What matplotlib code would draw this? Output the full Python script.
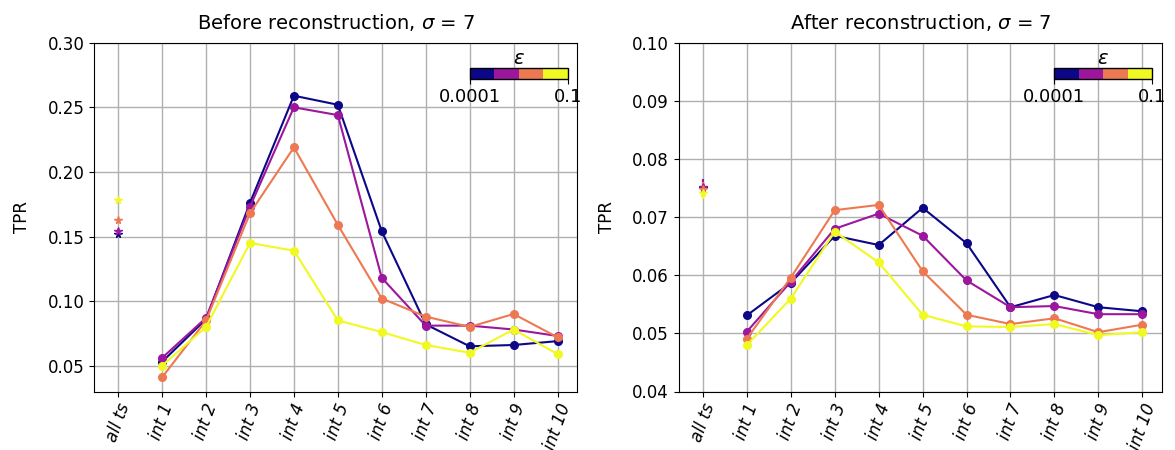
import numpy as np
import matplotlib
matplotlib.use('Agg')
import matplotlib.pyplot as plt
from matplotlib.colors import ListedColormap, BoundaryNorm

labels = ['all ts'] + ['int %d' % i for i in range(1, 11)]
epsilons = [0.0001, 0.001, 0.01, 0.1]

# before reconstruction: first value is "all ts"
before = {
    0.0001: [0.152, 0.053, 0.086, 0.176, 0.259, 0.252, 0.154, 0.082, 0.065, 0.066, 0.069],
    0.001:  [0.154, 0.056, 0.087, 0.173, 0.250, 0.244, 0.118, 0.081, 0.081, 0.078, 0.073],
    0.01:   [0.163, 0.041, 0.085, 0.168, 0.219, 0.159, 0.102, 0.088, 0.080, 0.090, 0.072],
    0.1:    [0.178, 0.050, 0.080, 0.145, 0.139, 0.085, 0.076, 0.066, 0.060, 0.078, 0.059],
}
after = {
    0.0001: [0.0750, 0.0531, 0.0587, 0.0668, 0.0652, 0.0716, 0.0655, 0.0545, 0.0566, 0.0545, 0.0538],
    0.001:  [0.0752, 0.0503, 0.0589, 0.0680, 0.0706, 0.0668, 0.0591, 0.0545, 0.0547, 0.0533, 0.0533],
    0.01:   [0.0748, 0.0491, 0.0596, 0.0712, 0.0721, 0.0607, 0.0532, 0.0516, 0.0526, 0.0502, 0.0515],
    0.1:    [0.0742, 0.0480, 0.0560, 0.0675, 0.0622, 0.0532, 0.0512, 0.0511, 0.0516, 0.0497, 0.0502],
}
after_err = {
    0.0001: [0.0010, 0.0004, 0.0004, 0.0005, 0.0004, 0.0006, 0.0008, 0.0004, 0.0003, 0.0003, 0.0004],
    0.001:  [0.0013, 0.0005, 0.0004, 0.0004, 0.0004, 0.0006, 0.0007, 0.0004, 0.0003, 0.0003, 0.0003],
    0.01:   [0.0012, 0.0004, 0.0003, 0.0005, 0.0006, 0.0006, 0.0004, 0.0003, 0.0003, 0.0003, 0.0003],
    0.1:    [0.0010, 0.0004, 0.0003, 0.0004, 0.0007, 0.0004, 0.0003, 0.0003, 0.0003, 0.0003, 0.0003],
}

colors = ['#0c0786', '#9c179e', '#ed7953', '#f0f921']

fig, axes = plt.subplots(1, 2, figsize=(11.75, 4.5), dpi=100)
plt.subplots_adjust(left=0.08, right=0.989, top=0.905, bottom=0.13, wspace=0.21)

x = np.arange(len(labels))
for ax, data, errs, title, ylim in [
        (axes[0], before, None, r'Before reconstruction, $\sigma$ = 7', (0.03, 0.30)),
        (axes[1], after, after_err, r'After reconstruction, $\sigma$ = 7', (0.04, 0.10))]:
    for c, eps in zip(colors, epsilons):
        y = data[eps]
        e = errs[eps] if errs else [0] * len(y)
        ax.errorbar(x[1:], y[1:], yerr=e[1:], color=c, marker='o', ms=5.5, lw=1.5)
        ax.errorbar(x[:1], y[:1], yerr=e[:1], color=c, marker='*', ms=5.5, lw=1.5)
    ax.set_title(title, fontsize=14, pad=10)
    ax.set_ylabel('TPR', fontsize=12, labelpad=12)
    ax.set_xticks(x)
    ax.set_xticklabels(labels, rotation=70, fontsize=12, style='italic')
    ax.tick_params(axis='y', labelsize=12)
    ax.set_ylim(*ylim)
    ax.set_xlim(-0.55, 10.45)
    ax.grid(True, color='#b0b0b0', lw=1)
    ax.set_axisbelow(True)

    cax = ax.inset_axes([0.777, 0.897, 0.203, 0.032])
    cm = ListedColormap(colors)
    sm = plt.cm.ScalarMappable(cmap=cm, norm=BoundaryNorm(np.linspace(0, 4, 5), 4))
    cb = fig.colorbar(sm, cax=cax, orientation='horizontal')
    cb.set_ticks([0, 4])
    cb.set_ticklabels(['0.0001', '0.1'], fontsize=13)
    cax.minorticks_off()
    cb.outline.set_linewidth(1)
    cax.set_title(r'$\epsilon$', fontsize=14, pad=2)

axes[0].set_yticks([0.05, 0.10, 0.15, 0.20, 0.25, 0.30])
axes[1].set_yticks([0.04, 0.05, 0.06, 0.07, 0.08, 0.09, 0.10])

plt.savefig('out.png', dpi=100)
plt.close()
